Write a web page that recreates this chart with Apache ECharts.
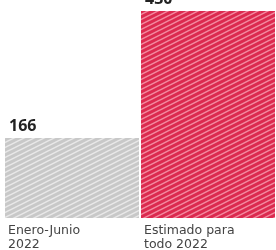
<!DOCTYPE html>
<html lang="es">
<head>
<meta charset="UTF-8">
<title></title>
<style type="text/css">
	html, body { margin: 0; padding: 0; background: #fff; }
	#container { width: 276px; height: 250px; }
</style>
<script type="text/javascript" src="https://cdn.jsdelivr.net/npm/echarts/dist/echarts.min.js"></script>
</head>
<body>
<div id="container"></div>
<script type="text/javascript">
var categories = ['Enero-Junio\n2022', 'Estimado para\ntodo 2022'];
var values = [166, 430];
var baseColors = ['#c8c8c8', '#dc2a4f'];
var stripeColors = ['#e8e8e8', '#f28ba0'];

// diagonal stripe tile
function stripes(base, line) {
	var c = document.createElement('canvas');
	c.width = 10; c.height = 5;
	var ctx = c.getContext('2d');
	ctx.fillStyle = base;
	ctx.fillRect(0, 0, 10, 5);
	ctx.strokeStyle = line;
	ctx.lineWidth = 1.5;
	ctx.beginPath();
	ctx.moveTo(-10, 10); ctx.lineTo(10, 0);
	ctx.moveTo(0, 5); ctx.lineTo(10, 0);
	ctx.moveTo(0, 10); ctx.lineTo(20, 0);
	ctx.moveTo(-10, 5); ctx.lineTo(10, -5);
	ctx.stroke();
	return { image: c, repeat: 'repeat' };
}

var dom = document.getElementById('container');
var myChart = echarts.init(dom);
var option = {
	animation: false,
	grid: { left: 4, right: 0, top: 11, bottom: 32, outerBoundsMode: 'none' },
	xAxis: [{
		type: 'category',
		data: categories,
		axisLine: { show: false },
		axisTick: { show: false },
		axisLabel: { show: false }
	}, {
		// label axis: labels start at each bar's left edge
		type: 'category',
		position: 'bottom',
		boundaryGap: false,
		data: categories.concat(['']),
		axisLine: { show: false },
		axisTick: { show: false },
		axisLabel: {
			interval: 0,
			align: 'left',
			verticalAlign: 'top',
			margin: 6,
			padding: [0, 0, 0, 4],
			color: '#444',
			fontFamily: 'DejaVu Sans',
			fontSize: 12.5,
			lineHeight: 14
		}
	}],
	yAxis: {
		type: 'value',
		min: 0,
		max: 430,
		show: false,
		splitLine: { show: false }
	},
	series: [{
		type: 'bar',
		barWidth: 134,
		data: values.map(function (v, i) {
			return { value: v, itemStyle: { color: stripes(baseColors[i], stripeColors[i]) } };
		}),
		label: {
			show: true,
			position: [4, -4],
			align: 'left',
			verticalAlign: 'bottom',
			color: '#222',
			fontFamily: 'Open Sans',
			fontWeight: 'bold',
			fontSize: 16
		}
	}]
};
myChart.setOption(option);
</script>
</body>
</html>
